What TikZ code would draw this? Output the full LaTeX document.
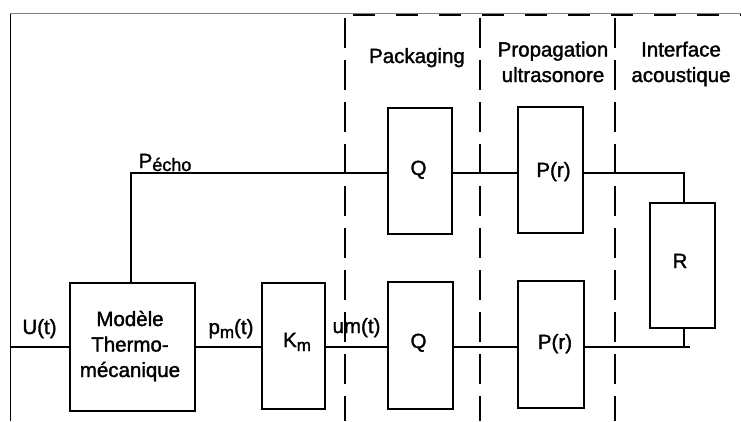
\documentclass[tikz,border=0pt]{standalone}
\usepackage{fontspec}
\setmainfont{Liberation Sans}[FakeBold=1.6]
\newcommand{\subtxt}[1]{\raisebox{-4bp}{\fontsize{17bp}{17bp}\selectfont #1}}
\begin{document}
\begin{tikzpicture}[x=1bp,y=-1bp,
  blk/.style n args={2}{draw,line width=1.4bp,inner sep=0pt,minimum width=#1,minimum height=#2},
  wire/.style={line width=1.4bp},
  sep/.style={line width=1.5bp,dash pattern=on 30bp off 12bp},
  lbl/.style={anchor=base,inner sep=0pt,font=\fontsize{20.5bp}{25.5bp}\selectfont,align=center}]
\useasboundingbox (0,0) rectangle (741,421);
% frame
\draw[line width=1.5bp,color=gray] (10,13.5) -- (741,13.5);
\draw[line width=1.1bp] (10.5,13.5) -- (10.5,421);
\draw[line width=2bp,dash pattern=on 22bp off 21bp] (353,15) -- (741,15);
% separators
\coordinate (s1t) at (345,18); \coordinate (s1b) at (345,421);
\coordinate (s2t) at (480,18); \coordinate (s2b) at (480,421);
\coordinate (s3t) at (615,18); \coordinate (s3b) at (615,421);
\draw[sep] (s1t) -- (s1b);
\draw[sep] (s2t) -- (s2b);
\draw[sep] (s3t) -- (s3b);
% blocks
\node[blk={125bp}{128bp}] (modele) at (132.5,347) {};
\node[blk={63bp}{126bp}] (km) at (293.5,346) {};
\node[blk={64bp}{126bp}] (q1) at (420,171) {};
\node[blk={65bp}{126bp}] (p1) at (550.5,170) {};
\node[blk={65bp}{127bp}] (q2) at (420.5,345.5) {};
\node[blk={66bp}{127bp}] (p2) at (551,344.5) {};
\node[blk={65bp}{125bp}] (R) at (682.5,265.5) {};
% block texts
\node[lbl] (tmod) at (130,377) {Modèle\\Thermo-\\mécanique};
\node[lbl] (tkm) at (297,347) {K\subtxt{m}};
\node[lbl] (tq1) at (418.5,175) {Q};
\node[lbl] (tp1) at (553.5,177) {P(r)};
\node[lbl] (tq2) at (418.5,348) {Q};
\node[lbl] (tp2) at (555,349) {P(r)};
\node[lbl] (tR) at (680,268) {R};
% headers
\node[lbl] (hpack) at (417,63) {Packaging};
\node[lbl] (hprop) at (553,82) {Propagation\\ultrasonore};
\node[lbl] (hint) at (681,82) {Interface\\acoustique};
% signal labels
\node[lbl] (lu) at (39.5,334) {U(t)};
\node[lbl] (lpm) at (231,334) {p\subtxt{m}(t)};
\node[lbl] (lum) at (356.5,333) {um(t)};
\node[lbl] (lpe) at (165,168) {P\raisebox{-3bp}{\fontsize{18bp}{18bp}\selectfont écho}};
% connectors
\coordinate (inL) at (10.5,347);
\coordinate (yT) at (0,173);
\coordinate (yB) at (0,347);
\coordinate (xR) at (684,0);
\coordinate (endB) at (690,347);
\coordinate (peT) at (131,173);
\draw[wire] (inL) -- (modele.west |- yB);
\draw[wire] (modele.east |- yB) -- (km.west |- yB);
\draw[wire] (km.east |- yB) -- (q2.west |- yB);
\draw[wire] (q2.east |- yB) -- (p2.west |- yB);
\draw[wire,line width=1.8bp] (p2.east |- yB) -- (endB);
\draw[wire] (R.south -| xR) -- (xR |- yB);
\draw[wire] (modele.north -| peT) -- (peT) -- (q1.west |- yT);
\draw[wire] (q1.east |- yT) -- (p1.west |- yT);
\draw[wire] (p1.east |- yT) -- (xR |- yT) -- (R.north -| xR);
\end{tikzpicture}
\end{document}
